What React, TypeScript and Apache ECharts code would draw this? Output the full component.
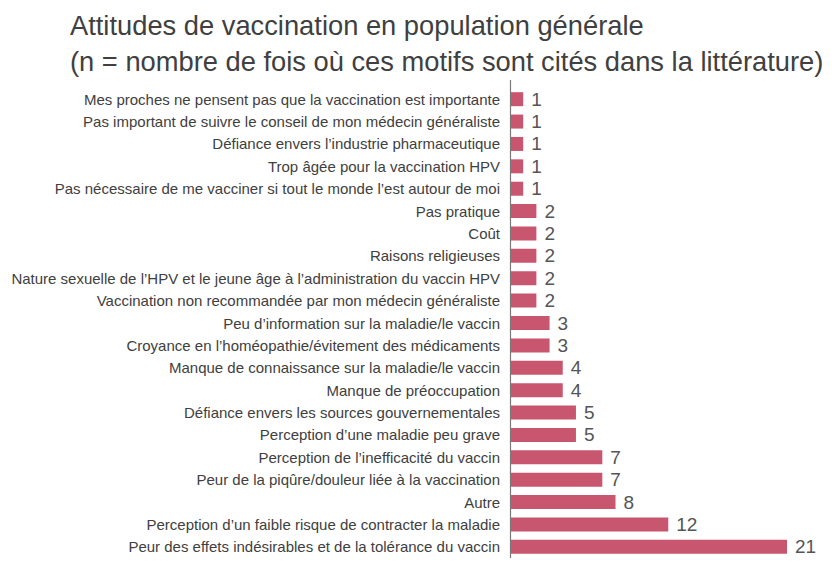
import React, { useEffect, useRef } from "react";
import * as echarts from "echarts";

const categories = [
  "Mes proches ne pensent pas que la vaccination est importante",
  "Pas important de suivre le conseil de mon médecin généraliste",
  "Défiance envers l’industrie pharmaceutique",
  "Trop âgée pour la vaccination HPV",
  "Pas nécessaire de me vacciner si tout le monde l’est autour de moi",
  "Pas pratique",
  "Coût",
  "Raisons religieuses",
  "Nature sexuelle de l’HPV et le jeune âge à l’administration du vaccin HPV",
  "Vaccination non recommandée par mon médecin généraliste",
  "Peu d’information sur la maladie/le vaccin",
  "Croyance en l’homéopathie/évitement des médicaments",
  "Manque de connaissance sur la maladie/le vaccin",
  "Manque de préoccupation",
  "Défiance envers les sources gouvernementales",
  "Perception d’une maladie peu grave",
  "Perception de l’inefficacité du vaccin",
  "Peur de la piqûre/douleur liée à la vaccination",
  "Autre",
  "Perception d’un faible risque de contracter la maladie",
  "Peur des effets indésirables et de la tolérance du vaccin",
];

const values = [1, 1, 1, 1, 1, 2, 2, 2, 2, 2, 3, 3, 4, 4, 5, 5, 7, 7, 8, 12, 21];

const titleText =
  "Attitudes de vaccination en population générale\n(n = nombre de fois où ces motifs sont cités dans la littérature)";

export default function App() {
  const ref = useRef<HTMLDivElement>(null);
  useEffect(() => {
    if (!ref.current) return;
    const chart = echarts.init(ref.current, null, { renderer: "svg" });
    chart.setOption({
      animation: false,
      backgroundColor: "#ffffff",
      title: {
        text: titleText,
        left: 62,
        top: -1,
        padding: 0,
        textStyle: {
          fontFamily: "Liberation Sans, Arial, sans-serif",
          fontSize: 27.3,
          fontWeight: "normal",
          color: "#404040",
          lineHeight: 36,
        },
      },
      grid: { left: 502, top: 80, width: 277, height: 473, containLabel: false },
      xAxis: {
        type: "value",
        min: 0,
        max: 21,
        show: false,
      },
      yAxis: {
        type: "category",
        data: categories,
        inverse: true,
        axisLine: { show: false },
        axisTick: { show: false },
        axisLabel: {
          margin: 10,
          fontFamily: "Liberation Sans, Arial, sans-serif",
          fontSize: 15,
          color: "#404040",
        },
      },
      series: [
        {
          type: "bar",
          data: values,
          barWidth: 14,
          itemStyle: { color: "#C9566F" },
          label: {
            show: true,
            position: "right",
            distance: 8,
            fontFamily: "Liberation Sans, Arial, sans-serif",
            fontSize: 19,
            color: "#555555",
          },
        },
      ],
      graphic: [
        {
          type: "line",
          shape: { x1: 502.5, y1: 72, x2: 502.5, y2: 558 },
          style: { stroke: "#7a7a7a", lineWidth: 1.2 },
          z: 10,
        },
      ],
    });
    return () => chart.dispose();
  }, []);
  return <div ref={ref} style={{ width: 828, height: 550 }} />;
}
